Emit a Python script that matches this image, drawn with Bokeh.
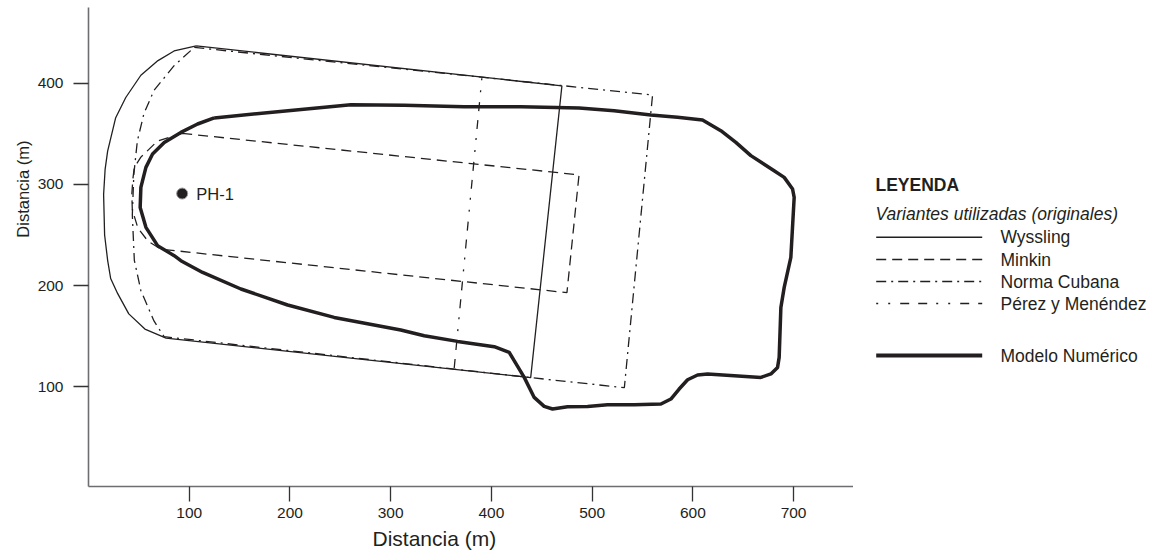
from bokeh.plotting import figure
from bokeh.layouts import row
from bokeh.models import Range1d, FixedTicker, Title
from bokeh.core.properties import value
from bokeh.embed import file_html
from bokeh.resources import INLINE

FONT = "Liberation Sans"
INK = "#231f20"

# --- contours (distances in m) ---
wyssling_x = [107, 470, 439, 77, 56, 40, 29, 22, 19, 16, 15, 16.5, 19, 27, 37, 52, 69, 85, 107]
wyssling_y = [437, 397.5, 109, 148, 157, 172, 192, 207, 225, 250, 290, 315, 333, 366, 386, 408, 422.5, 432, 437]

minkin_x = [93, 487, 475, 72, 59, 49, 43.5, 43, 44, 45.5, 52, 68.5, 93]
minkin_y = [350.5, 309.5, 193, 236, 244, 257, 275, 290, 305, 317, 327, 343, 350.5]

norma_x = [105, 560, 532, 439, 75, 65, 52, 45.5, 43.5, 45, 48.5, 55, 65, 85, 105]
norma_y = [435.5, 388.5, 99, 109, 149.5, 165, 195, 225, 270, 310, 343, 370, 393, 417.5, 435.5]

perez_x = [390.5, 363]
perez_y = [405, 117.5]

modelo_x = [124.8, 187.7, 260.5, 313.4, 373, 429.3, 487.1, 521.9, 558.3, 584.8, 609.6, 627.8,
            642.7, 657.6, 680.7, 690.7, 699, 700.6, 697.3, 690.7, 687.4, 685.7, 684.1, 677.5,
            667.5, 641.1, 614.6, 604.7, 594.8, 586.4, 578.2, 568.3, 541.8, 515.3, 495.5, 475.6,
            460.7, 452.4, 442.5, 432.6, 422.6, 417.7, 402.8, 366.4, 333.3, 310, 243.9, 197.7,
            151.3, 113.3, 91.7, 85.1, 68.6, 57, 51.3, 52, 57, 63.6, 75.2, 91.7, 108.3, 124.8]
modelo_y = [365.8, 372, 378.8, 378.3, 376.9, 376.9, 375.6, 373, 368.7, 366.4, 363.8, 353.2,
            341.6, 328.5, 313.6, 307, 295.5, 287.2, 227.9, 198.2, 178.4, 129, 119.1, 112.6,
            109.2, 110.9, 112.6, 111.6, 106.9, 97.7, 87.8, 82.9, 82.2, 82.2, 80.5, 80.2,
            77.9, 80.5, 89.4, 109.2, 125.7, 133.9, 139.6, 144.8, 150.4, 156.1, 168.5, 180.8,
            196.6, 213, 224.6, 229.6, 239.5, 257.6, 277.3, 297.1, 316.9, 330.1, 341.6, 351.5, 359.8, 365.8]

well_x = [93]
well_y = [291]
well_name = ["PH-1"]

x_ticks = [100, 200, 300, 400, 500, 600, 700]
y_ticks = [100, 200, 300, 400]
axis_title = "Distancia (m)"

legend_title = "LEYENDA"
legend_subtitle = "Variantes utilizadas (originales)"
legend_labels = ["Wyssling", "Minkin", "Norma Cubana", "Pérez y Menéndez", "Modelo Numérico"]

# line styles per series
DASH = {
    "Wyssling": "solid",
    "Minkin": "10 6",
    "Norma Cubana": "10 5 2 5",
    "Pérez y Menéndez": "2 10 2 10 9 9 9 9",
    "Modelo Numérico": "solid",
}
WIDTH = {"Wyssling": 1.3, "Minkin": 1.3, "Norma Cubana": 1.3,
         "Pérez y Menéndez": 1.3, "Modelo Numérico": 3.5}

TOP, BOTTOM = 7, 71

p = figure(width=853, height=557, x_range=Range1d(0, 759.5), y_range=Range1d(1.3, 475),
           toolbar_location=None, output_backend="svg",
           min_border_left=88, min_border_right=0, min_border_top=TOP, min_border_bottom=BOTTOM)
p.grid.visible = False
p.outline_line_color = None

for ax, ticks in ((p.xaxis, x_ticks), (p.yaxis, y_ticks)):
    ax.ticker = FixedTicker(ticks=ticks)
    ax.major_tick_out = 15
    ax.major_tick_in = 0
    ax.minor_tick_out = 0
    ax.minor_tick_in = 0
    ax.axis_line_color = "#6d6e71"
    ax.axis_line_width = 1.6
    ax.major_tick_line_color = "#333333"
    ax.major_tick_line_width = 1.3
    ax.major_label_text_font = FONT
    ax.major_label_text_font_size = "15.5px"
    ax.major_label_text_color = INK
p.xaxis.major_label_standoff = 6
p.yaxis.major_label_standoff = 10

p.add_layout(Title(text=axis_title, align="left", offset=284, standoff=8,
                   text_font=FONT, text_font_size="21px", text_font_style="normal",
                   text_color=INK), "below")
p.add_layout(Title(text=axis_title, align="right", offset=133, standoff=6,
                   text_font=FONT, text_font_size="16.5px", text_font_style="normal",
                   text_color=INK), "left")

p.line(norma_x, norma_y, line_color=INK, line_width=WIDTH["Norma Cubana"], line_dash=DASH["Norma Cubana"])
p.line(minkin_x, minkin_y, line_color=INK, line_width=WIDTH["Minkin"], line_dash=DASH["Minkin"])
p.line(perez_x, perez_y, line_color=INK, line_width=WIDTH["Pérez y Menéndez"], line_dash=DASH["Pérez y Menéndez"])
p.line(wyssling_x, wyssling_y, line_color=INK, line_width=WIDTH["Wyssling"])
p.line(modelo_x, modelo_y, line_color=INK, line_width=WIDTH["Modelo Numérico"], line_join="round")

p.scatter(well_x, well_y, size=11, fill_color=INK, line_color="#9a9a9a", line_width=1)
p.text([x + 14 for x in well_x], well_y, text=well_name, text_font=value(FONT),
       text_font_size="16.5px", text_baseline="middle", text_color=INK)

# legend panel; its frame shares the main plot's vertical extent, so the
# y range is expressed in page pixels from TOP to 557 - BOTTOM
lg = figure(width=313, height=557, x_range=Range1d(0, 313), y_range=Range1d(557 - BOTTOM, TOP),
            toolbar_location=None, output_backend="svg",
            x_axis_location=None, y_axis_location=None,
            min_border_left=0, min_border_right=0,
            min_border_top=TOP, min_border_bottom=BOTTOM)
lg.grid.visible = False
lg.outline_line_color = None

row_y = [236.7, 259, 281, 303, 355]
lg.text([22], [184], text=[legend_title], text_font=value(FONT), text_font_style="bold",
        text_font_size="17.5px", text_baseline="middle", text_color=INK)
lg.text([22], [213.5], text=[legend_subtitle], text_font=value(FONT), text_font_style="italic",
        text_font_size="17.5px", text_baseline="middle", text_color=INK)
for name, yy in zip(legend_labels, row_y):
    lw = 4 if name == "Modelo Numérico" else 1.5
    lg.line([22.7, 128.7], [yy, yy], line_color=INK, line_width=lw, line_dash=DASH[name])
    lg.text([147], [yy], text=[name], text_font=value(FONT), text_font_size="17.5px",
            text_baseline="middle", text_color=INK)

layout = row(p, lg, spacing=0)
open("out.html", "w").write(file_html(layout, INLINE))
